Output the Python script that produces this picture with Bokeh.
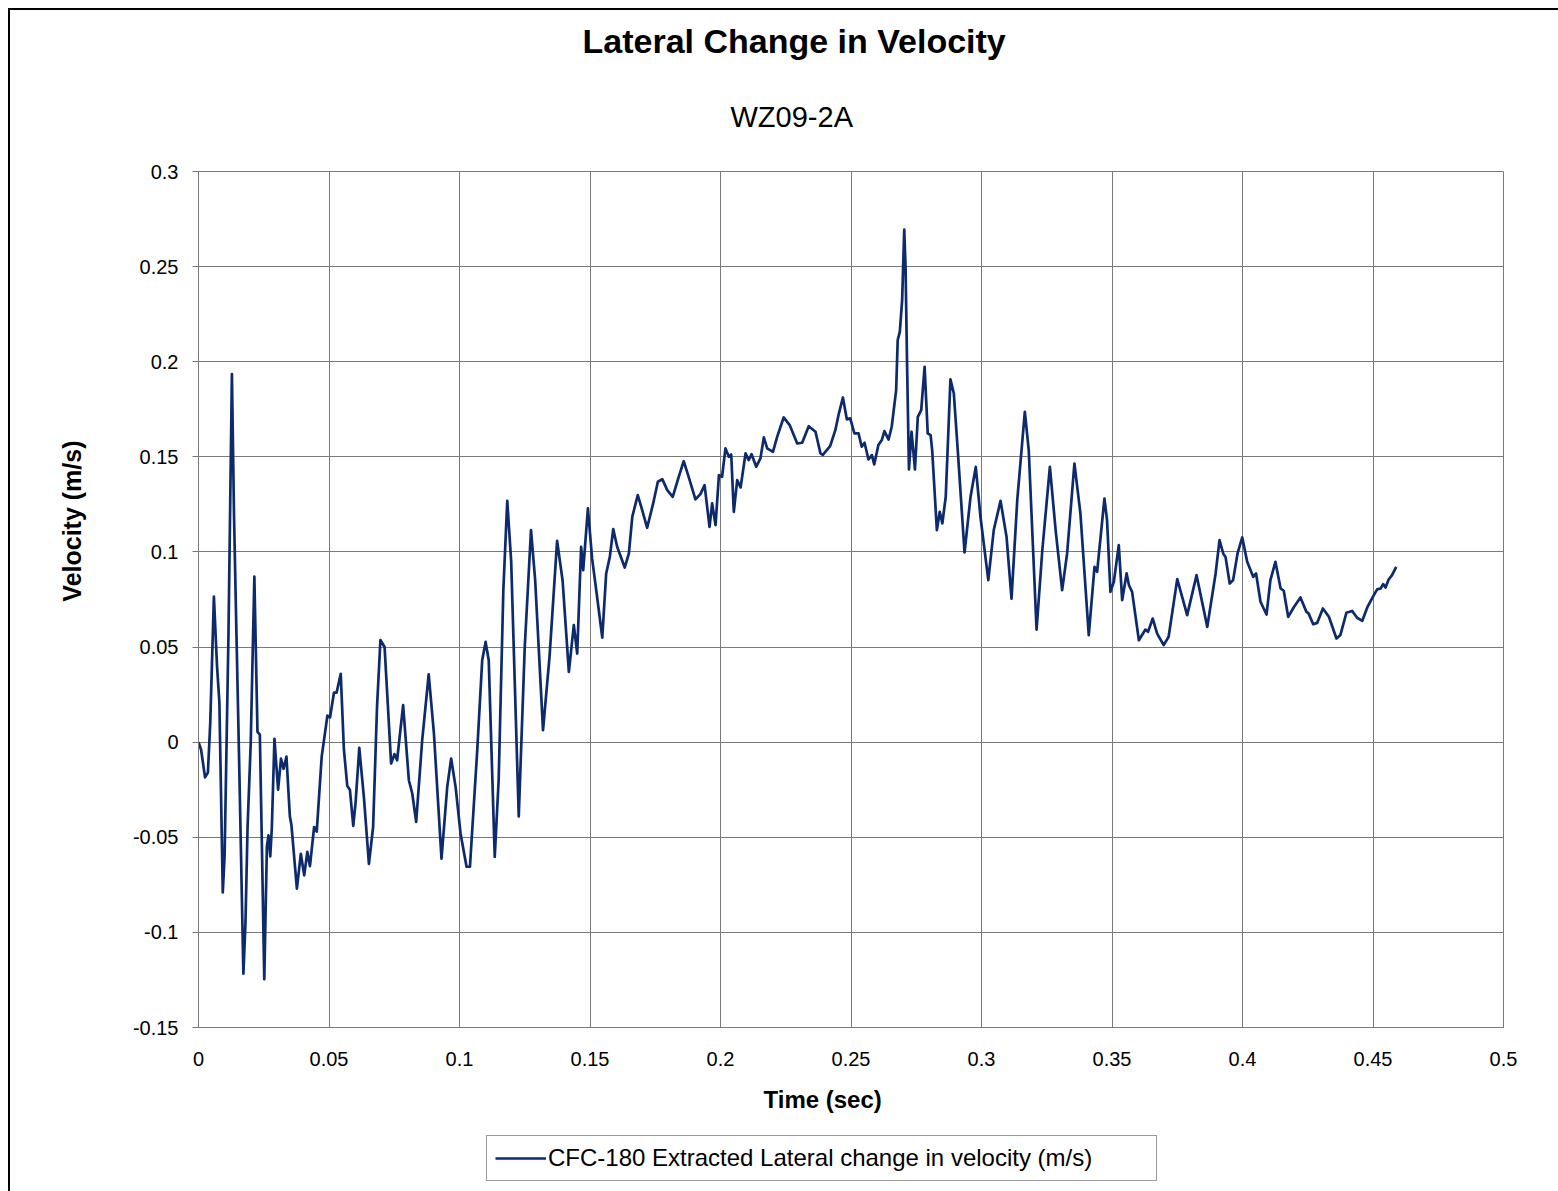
from bokeh.plotting import figure
from bokeh.layouts import column
from bokeh.models import Range1d, FixedTicker, Legend, LegendItem, Title
from bokeh.embed import file_html
from bokeh.resources import INLINE

chart_title = "Lateral Change in Velocity"
chart_subtitle = "WZ09-2A"
x_axis_title = "Time (sec)"
y_axis_title = "Velocity (m/s)"
series_name = "CFC-180 Extracted Lateral change in velocity (m/s)"

time_s = [
    0.0000, 0.0010, 0.0025, 0.0036, 0.0045, 0.0059, 0.0071, 0.0080, 0.0093, 0.0100,
    0.0115, 0.0128, 0.0136, 0.0144, 0.0156, 0.0172, 0.0180, 0.0188, 0.0200, 0.0214,
    0.0226, 0.0235, 0.0243, 0.0252, 0.0262, 0.0268, 0.0275, 0.0281, 0.0291, 0.0305,
    0.0316, 0.0326, 0.0337, 0.0350, 0.0356, 0.0377, 0.0392, 0.0405, 0.0417, 0.0427,
    0.0443, 0.0453, 0.0472, 0.0494, 0.0504, 0.0519, 0.0529, 0.0545, 0.0557, 0.0570,
    0.0580, 0.0593, 0.0602, 0.0616, 0.0634, 0.0653, 0.0669, 0.0684, 0.0697, 0.0713,
    0.0738, 0.0751, 0.0761, 0.0784, 0.0806, 0.0819, 0.0834, 0.0857, 0.0882, 0.0902,
    0.0931, 0.0953, 0.0968, 0.0985, 0.1004, 0.1027, 0.1040, 0.1068, 0.1087, 0.1100,
    0.1112, 0.1135, 0.1150, 0.1168, 0.1183, 0.1198, 0.1227, 0.1250, 0.1274, 0.1290,
    0.1320, 0.1345, 0.1374, 0.1395, 0.1419, 0.1438, 0.1451, 0.1466, 0.1474, 0.1492,
    0.1508, 0.1528, 0.1547, 0.1562, 0.1576, 0.1589, 0.1604, 0.1633, 0.1649, 0.1662,
    0.1683, 0.1700, 0.1719, 0.1742, 0.1760, 0.1777, 0.1796, 0.1817, 0.1840, 0.1859,
    0.1878, 0.1904, 0.1923, 0.1939, 0.1958, 0.1968, 0.1981, 0.1994, 0.2006, 0.2019,
    0.2032, 0.2041, 0.2051, 0.2064, 0.2077, 0.2096, 0.2108, 0.2119, 0.2137, 0.2153,
    0.2166, 0.2179, 0.2201, 0.2217, 0.2242, 0.2265, 0.2294, 0.2313, 0.2338, 0.2364,
    0.2383, 0.2392, 0.2420, 0.2440, 0.2452, 0.2469, 0.2484, 0.2497, 0.2513, 0.2529,
    0.2541, 0.2552, 0.2567, 0.2580, 0.2589, 0.2605, 0.2618, 0.2628, 0.2644, 0.2656,
    0.2673, 0.2679, 0.2687, 0.2696, 0.2704, 0.2709, 0.2715, 0.2722, 0.2732, 0.2745,
    0.2756, 0.2769, 0.2782, 0.2794, 0.2805, 0.2811, 0.2829, 0.2840, 0.2850, 0.2863,
    0.2881, 0.2894, 0.2909, 0.2935, 0.2958, 0.2978, 0.2996, 0.3026, 0.3047, 0.3073,
    0.3096, 0.3115, 0.3137, 0.3166, 0.3181, 0.3211, 0.3233, 0.3262, 0.3284, 0.3309,
    0.3328, 0.3356, 0.3379, 0.3411, 0.3433, 0.3443, 0.3471, 0.3481, 0.3494, 0.3507,
    0.3526, 0.3539, 0.3556, 0.3565, 0.3577, 0.3603, 0.3628, 0.3638, 0.3656, 0.3673,
    0.3698, 0.3717, 0.3750, 0.3788, 0.3824, 0.3865, 0.3897, 0.3912, 0.3926, 0.3935,
    0.3951, 0.3964, 0.3981, 0.3999, 0.4018, 0.4041, 0.4052, 0.4069, 0.4092, 0.4107,
    0.4126, 0.4146, 0.4158, 0.4175, 0.4196, 0.4222, 0.4245, 0.4253, 0.4271, 0.4286,
    0.4308, 0.4331, 0.4360, 0.4375, 0.4398, 0.4420, 0.4439, 0.4459, 0.4478, 0.4501,
    0.4516, 0.4529, 0.4539, 0.4548, 0.4560, 0.4573, 0.4589,
]

velocity = [
    0.0000, -0.0040, -0.0185, -0.0160, 0.0100, 0.0765, 0.0400, 0.0210, -0.0790, -0.0600,
    0.0580, 0.1935, 0.1200, 0.0660, -0.0120, -0.1217, -0.0950, -0.0446, -0.0010, 0.0870,
    0.0054, 0.0040, -0.0550, -0.1246, -0.0550, -0.0490, -0.0600, -0.0450, 0.0017, -0.0250,
    -0.0087, -0.0140, -0.0076, -0.0390, -0.0435, -0.0770, -0.0587, -0.0700, -0.0576, -0.0652,
    -0.0446, -0.0470, -0.0076, 0.0140, 0.0130, 0.0260, 0.0260, 0.0359, -0.0037, -0.0230,
    -0.0250, -0.0440, -0.0315, -0.0030, -0.0294, -0.0640, -0.0446, 0.0185, 0.0537, 0.0500,
    -0.0112, -0.0063, -0.0095, 0.0195, -0.0200, -0.0270, -0.0419, 0.0009, 0.0357, 0.0046,
    -0.0612, -0.0235, -0.0086, -0.0235, -0.0480, -0.0655, -0.0655, -0.0042, 0.0431, 0.0527,
    0.0431, -0.0603, -0.0200, 0.0800, 0.1269, 0.0950, -0.0390, 0.0500, 0.1115, 0.0850,
    0.0063, 0.0450, 0.1058, 0.0850, 0.0370, 0.0615, 0.0466, 0.1027, 0.0904, 0.1229,
    0.0966, 0.0755, 0.0550, 0.0887, 0.0974, 0.1120, 0.1027, 0.0918, 0.0992, 0.1185,
    0.1299, 0.1220, 0.1127, 0.1255, 0.1369, 0.1383, 0.1325, 0.1290, 0.1395, 0.1477,
    0.1395, 0.1276, 0.1304, 0.1351, 0.1132, 0.1255, 0.1141, 0.1404, 0.1395, 0.1544,
    0.1500, 0.1512, 0.1211, 0.1378, 0.1339, 0.1518, 0.1483, 0.1514, 0.1448, 0.1492,
    0.1602, 0.1544, 0.1526, 0.1605, 0.1707, 0.1667, 0.1570, 0.1574, 0.1661, 0.1632,
    0.1518, 0.1510, 0.1556, 0.1640, 0.1719, 0.1812, 0.1697, 0.1702, 0.1623, 0.1623,
    0.1553, 0.1574, 0.1486, 0.1509, 0.1460, 0.1562, 0.1588, 0.1635, 0.1591, 0.1658,
    0.1851, 0.2114, 0.2157, 0.2324, 0.2695, 0.2499, 0.1973, 0.1434, 0.1632, 0.1434,
    0.1710, 0.1746, 0.1973, 0.1623, 0.1614, 0.1535, 0.1115, 0.1211, 0.1150, 0.1290,
    0.1907, 0.1833, 0.1535, 0.0997, 0.1290, 0.1447, 0.1185, 0.0852, 0.1115, 0.1269,
    0.1079, 0.0755, 0.1272, 0.1737, 0.1535, 0.0592, 0.1009, 0.1447, 0.1115, 0.0799,
    0.0992, 0.1465, 0.1202, 0.0563, 0.0922, 0.0895, 0.1281, 0.1167, 0.0790, 0.0843,
    0.1036, 0.0747, 0.0887, 0.0825, 0.0790, 0.0536, 0.0592, 0.0580, 0.0650, 0.0571,
    0.0510, 0.0554, 0.0857, 0.0668, 0.0878, 0.0606, 0.0887, 0.1062, 0.0992, 0.0974,
    0.0834, 0.0852, 0.0992, 0.1076, 0.0948, 0.0869, 0.0887, 0.0738, 0.0671, 0.0852,
    0.0948, 0.0808, 0.0796, 0.0659, 0.0708, 0.0761, 0.0685, 0.0677, 0.0620, 0.0627,
    0.0703, 0.0659, 0.0545, 0.0563, 0.0680, 0.0690, 0.0654, 0.0638, 0.0708, 0.0768,
    0.0803, 0.0808, 0.0831, 0.0813, 0.0855, 0.0878, 0.0922,
]

x_ticks = [0.0, 0.05, 0.1, 0.15, 0.2, 0.25, 0.3, 0.35, 0.4, 0.45, 0.5]
x_tick_labels = ["0", "0.05", "0.1", "0.15", "0.2", "0.25", "0.3", "0.35", "0.4", "0.45", "0.5"]
y_ticks = [-0.15, -0.1, -0.05, 0.0, 0.05, 0.1, 0.15, 0.2, 0.25, 0.3]
y_tick_labels = ["-0.15", "-0.1", "-0.05", "0", "0.05", "0.1", "0.15", "0.2", "0.25", "0.3"]

FONT = "Liberation Sans"
LINE_COLOR = "#0d2a6c"
GRID_COLOR = "#7a7a7a"
LINE_WIDTH = 2.7

# ---------------- main chart ----------------
p = figure(
    width=1548, height=1122,
    min_border_left=188, min_border_right=55, min_border_top=161, min_border_bottom=105,
    x_range=Range1d(0, 0.5), y_range=Range1d(-0.15, 0.3),
    output_backend="svg", toolbar_location=None,
    background_fill_color="white", border_fill_color="white",
)

p.outline_line_color = GRID_COLOR
p.outline_line_width = 1

p.xaxis.ticker = FixedTicker(ticks=x_ticks)
p.yaxis.ticker = FixedTicker(ticks=y_ticks)
p.xaxis.major_label_overrides = dict(zip(x_ticks, x_tick_labels))
p.yaxis.major_label_overrides = dict(zip(y_ticks, y_tick_labels))
p.xaxis.minor_tick_line_color = None
p.yaxis.minor_tick_line_color = None

for ax in (p.xaxis, p.yaxis):
    ax.axis_line_color = GRID_COLOR
    ax.major_tick_line_color = GRID_COLOR
    ax.major_label_text_font = FONT
    ax.major_label_text_font_size = "20px"
    ax.major_label_text_color = "black"
    ax.major_tick_in = 0

p.yaxis.major_tick_out = 6
p.yaxis.major_label_standoff = 14
p.xaxis.major_tick_out = 0
p.xaxis.major_label_standoff = 24

p.xgrid.ticker = FixedTicker(ticks=x_ticks)
p.ygrid.ticker = FixedTicker(ticks=y_ticks)
p.xgrid.grid_line_color = GRID_COLOR
p.ygrid.grid_line_color = GRID_COLOR
p.xgrid.grid_line_width = 1
p.ygrid.grid_line_width = 1

p.line(time_s, velocity, line_color=LINE_COLOR, line_width=LINE_WIDTH, line_join="round")

# titles above the plot area (first added sits nearest the frame)
p.add_layout(Title(text=chart_subtitle, text_font=FONT, text_font_size="29px",
                   text_font_style="normal", text_color="black", align="left",
                   standoff=78, offset=532), "above")
p.add_layout(Title(text=chart_title, text_font=FONT, text_font_size="34px",
                   text_font_style="bold", text_color="black", align="left",
                   standoff=0, offset=384), "above")

# axis titles
p.add_layout(Title(text=y_axis_title, text_font=FONT, text_font_size="25px",
                   text_font_style="bold", text_color="black", align="right",
                   standoff=87, offset=269), "left")
p.add_layout(Title(text=x_axis_title, text_font=FONT, text_font_size="24px",
                   text_font_style="bold", text_color="black", align="left",
                   standoff=30, offset=565), "below")

# ---------------- legend strip (frame aligned with the chart above) ----------------
p2 = figure(
    width=1548, height=59,
    min_border_left=188, min_border_right=55, min_border_top=0, min_border_bottom=0,
    x_range=Range1d(10, 11), y_range=Range1d(10, 11),
    x_axis_type=None, y_axis_type=None,
    output_backend="svg", toolbar_location=None,
    background_fill_color="white", border_fill_color="white",
)
p2.outline_line_color = None
p2.xgrid.visible = False
p2.ygrid.visible = False
# same series, outside this strip's visible ranges: only its legend swatch shows
legend_line = p2.line(time_s, velocity, line_color=LINE_COLOR, line_width=LINE_WIDTH)

legend = Legend(items=[LegendItem(label=series_name, renderers=[legend_line])],
                location=(288, 10), orientation="horizontal",
                label_text_font=FONT, label_text_font_size="24px", label_text_color="black",
                glyph_width=51, label_standoff=2, padding=8, margin=0, label_width=600,
                border_line_color="#333333", border_line_width=1,
                background_fill_color="white", background_fill_alpha=1.0)
p2.add_layout(legend, "center")

layout = column(p, p2, spacing=0)
layout.styles = {"margin-left": "8px", "margin-top": "8px",
                 "border-left": "2px solid black", "border-top": "2px solid black"}

open("out.html", "w").write(file_html(layout, INLINE))
